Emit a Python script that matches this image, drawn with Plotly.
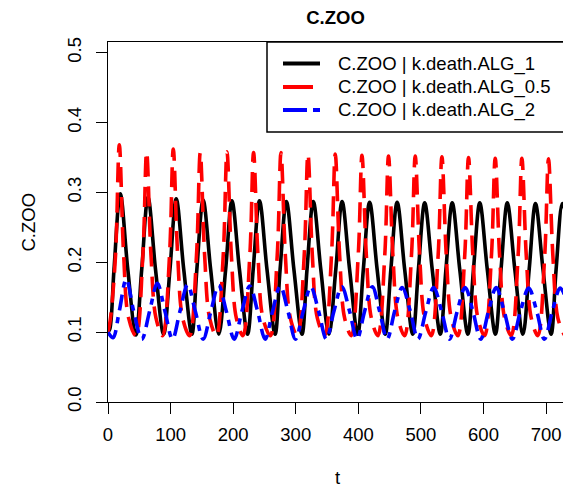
import plotly.graph_objects as go

# ---------------- data ----------------
t_black = [0, 3, 9.6, 19.6, 31.6, 44.6,
           53.9, 63.9, 75.9, 88.9,
           99, 109, 121, 134,
           142, 152, 164, 177,
           188, 198, 210, 223,
           232, 242, 254, 267,
           275, 285, 297, 310,
           318, 328, 340, 353,
           364, 374, 386, 399,
           408, 418, 430, 443,
           452, 462, 474, 487,
           496, 506, 518, 531,
           540, 550, 562, 575,
           584, 594, 606, 619,
           628, 638, 650, 663,
           673, 683, 695, 708,
           716, 726, 730]
v_black = [0.100, 0.105, 0.19, 0.298, 0.19, 0.096,
           0.19, 0.293, 0.19, 0.097,
           0.19, 0.291, 0.19, 0.097,
           0.19, 0.289, 0.19, 0.097,
           0.19, 0.288, 0.19, 0.097,
           0.19, 0.288, 0.19, 0.097,
           0.19, 0.287, 0.19, 0.097,
           0.19, 0.287, 0.19, 0.097,
           0.19, 0.287, 0.19, 0.097,
           0.19, 0.286, 0.19, 0.097,
           0.19, 0.286, 0.19, 0.097,
           0.19, 0.285, 0.19, 0.097,
           0.19, 0.285, 0.19, 0.097,
           0.19, 0.285, 0.19, 0.097,
           0.19, 0.285, 0.19, 0.097,
           0.19, 0.284, 0.19, 0.097,
           0.19, 0.284, 0.275]

t_red = [0, 4, 12, 18.1, 25, 33, 44.7,
         55.7, 61.7, 68.7, 76.7, 87.3,
         98.3, 104.3, 111.3, 119.3, 130.4,
         141.4, 147.4, 154.4, 162.4, 173.1,
         184.1, 190.1, 197.1, 205.1, 215.6,
         226.6, 232.6, 239.6, 247.6, 259.4,
         270.4, 276.4, 283.4, 291.4, 302.5,
         313.5, 319.5, 326.5, 334.5, 346.1,
         357.1, 363.1, 370.1, 378.1, 388.8,
         399.8, 405.8, 412.8, 420.8, 431.2,
         442.2, 448.2, 455.2, 463.2, 473.9,
         484.9, 490.9, 497.9, 505.9, 516.5,
         527.5, 533.5, 540.5, 548.5, 559,
         570, 576, 583, 591, 601.7,
         612.7, 618.7, 625.7, 633.7, 644.3,
         655.3, 661.3, 668.3, 676.3, 686.8,
         697.8, 703.8, 710.8, 718.8, 729]
v_red = [0.100, 0.12, 0.21, 0.368, 0.21, 0.12, 0.095,
         0.21, 0.358, 0.21, 0.12, 0.095,
         0.21, 0.362, 0.21, 0.12, 0.095,
         0.21, 0.357, 0.21, 0.12, 0.095,
         0.21, 0.358, 0.21, 0.12, 0.095,
         0.21, 0.357, 0.21, 0.12, 0.095,
         0.21, 0.357, 0.21, 0.12, 0.095,
         0.21, 0.355, 0.21, 0.12, 0.095,
         0.21, 0.355, 0.21, 0.12, 0.095,
         0.21, 0.353, 0.21, 0.12, 0.095,
         0.21, 0.352, 0.21, 0.12, 0.095,
         0.21, 0.352, 0.21, 0.12, 0.095,
         0.21, 0.351, 0.21, 0.12, 0.095,
         0.21, 0.350, 0.21, 0.12, 0.095,
         0.21, 0.349, 0.21, 0.12, 0.095,
         0.21, 0.349, 0.21, 0.12, 0.095,
         0.21, 0.348, 0.21, 0.12, 0.096]

t_blue = [0, 8, 18, 29.2, 41, 54,
          66.5, 78.8, 91, 103,
          115, 127.2, 139.5, 152,
          164.5, 176.7, 189, 201.6,
          214, 226.5, 239, 251,
          263, 275.2, 287.5, 299.6,
          312, 324, 336.5, 348.8,
          361, 373.5, 386, 397.9,
          410, 422.2, 434, 446,
          458, 470.1, 483, 495.2,
          508, 520.4, 533, 545.6,
          558, 570.8, 583, 595.5,
          608, 620.3, 633, 646.2,
          659, 672.2, 685, 697.3,
          710, 722.4, 730]
v_blue = [0.100, 0.092, 0.13, 0.176, 0.13, 0.090,
          0.13, 0.170, 0.13, 0.090,
          0.13, 0.168, 0.13, 0.090,
          0.13, 0.167, 0.13, 0.090,
          0.13, 0.166, 0.13, 0.090,
          0.13, 0.166, 0.13, 0.090,
          0.13, 0.165, 0.13, 0.090,
          0.13, 0.165, 0.13, 0.090,
          0.13, 0.165, 0.13, 0.090,
          0.13, 0.164, 0.13, 0.090,
          0.13, 0.164, 0.13, 0.090,
          0.13, 0.164, 0.13, 0.090,
          0.13, 0.164, 0.13, 0.090,
          0.13, 0.163, 0.13, 0.090,
          0.13, 0.163, 0.152]

series_names = ["C.ZOO | k.death.ALG_1", "C.ZOO | k.death.ALG_0.5", "C.ZOO | k.death.ALG_2"]
x_ticks = [0, 100, 200, 300, 400, 500, 600, 700]
y_ticks = [0.0, 0.1, 0.2, 0.3, 0.4, 0.5]
y_tick_text = ["0.0", "0.1", "0.2", "0.3", "0.4", "0.5"]

# ---------------- layout geometry ----------------
W, H = 563, 491
L, R, T, B = 108, 0, 42, 89
PW, PH = W - L - R, H - T - B

def px_x(p):
    return (p - L) / PW

def px_y(p):
    return (H - B - p) / PH

FONT = "Liberation Sans, Arial, sans-serif"
FS = 18.5

colors = ["#000000", "#FF0000", "#0000FF"]
dashes = ["solid", "20px,10px", "16px,7px,6px,7px"]
LW = 3.6

fig = go.Figure()
for t, v, name, c, d in [(t_black, v_black, series_names[0], colors[0], dashes[0]),
                         (t_red, v_red, series_names[1], colors[1], dashes[1]),
                         (t_blue, v_blue, series_names[2], colors[2], dashes[2])]:
    fig.add_trace(go.Scatter(x=t, y=v, mode="lines", name=name, showlegend=False,
                             line=dict(color=c, width=LW, dash=d, shape="spline", smoothing=1.0)))

fig.update_layout(
    width=W, height=H,
    margin=dict(l=L, r=R, t=T, b=B, autoexpand=False),
    paper_bgcolor="white", plot_bgcolor="white",
    font=dict(family=FONT, size=FS, color="black"),
    title=dict(text="<b>C.ZOO</b>", x=0.5, xref="paper", xanchor="center",
               y=(H - 18) / H, yanchor="middle", font=dict(family=FONT, size=FS, color="black")),
    xaxis=dict(range=[0, 727], tickvals=x_ticks, showgrid=False, zeroline=False,
               showline=True, linecolor="black", linewidth=1.3, mirror=True,
               ticks="outside", ticklen=11, tickwidth=1.3, tickcolor="black",
               ticklabelstandoff=5,
               tickfont=dict(family=FONT, size=FS, color="black")),
    yaxis=dict(range=[0, 0.5153], tickvals=y_ticks, ticktext=y_tick_text, showgrid=False,
               zeroline=False, showline=True, linecolor="black", linewidth=1.3, mirror=False,
               ticks="outside", ticklen=11, tickwidth=1.3, tickcolor="black", tickangle=-90,
               ticklabelstandoff=7,
               tickfont=dict(family=FONT, size=FS, color="black")),
)

# axis titles
fig.add_annotation(text="t", x=px_x(337), y=px_y(490), xref="paper", yref="paper",
                   xanchor="center", yanchor="bottom", showarrow=False,
                   font=dict(family=FONT, size=FS, color="black"))
fig.add_annotation(text="C.ZOO", x=px_x(27.5), y=px_y(222), xref="paper", yref="paper",
                   xanchor="center", yanchor="middle", showarrow=False, textangle=-90,
                   font=dict(family=FONT, size=FS, color="black"))

# legend box (extends past right edge, as in the reference)
fig.add_shape(type="rect", xref="paper", yref="paper",
              x0=px_x(267), x1=1.2, y0=px_y(132), y1=1.0,
              line=dict(color="black", width=1.5), fillcolor="white", layer="above")
leg_rows = [63.5, 87, 110]
leg_dash = ["solid", "solid", "24px,6px,7px,6px"]
leg_x1 = [320, 313, 320]
for i in range(3):
    fig.add_shape(type="line", xref="paper", yref="paper",
                  x0=px_x(283), x1=px_x(leg_x1[i]), y0=px_y(leg_rows[i]), y1=px_y(leg_rows[i]),
                  line=dict(color=colors[i], width=4, dash=leg_dash[i]), layer="above")
    fig.add_annotation(text=series_names[i], x=px_x(336), y=px_y(leg_rows[i]),
                       xref="paper", yref="paper", xanchor="left", yanchor="middle",
                       showarrow=False, font=dict(family=FONT, size=FS, color="black"))

fig.write_html("out.html")
